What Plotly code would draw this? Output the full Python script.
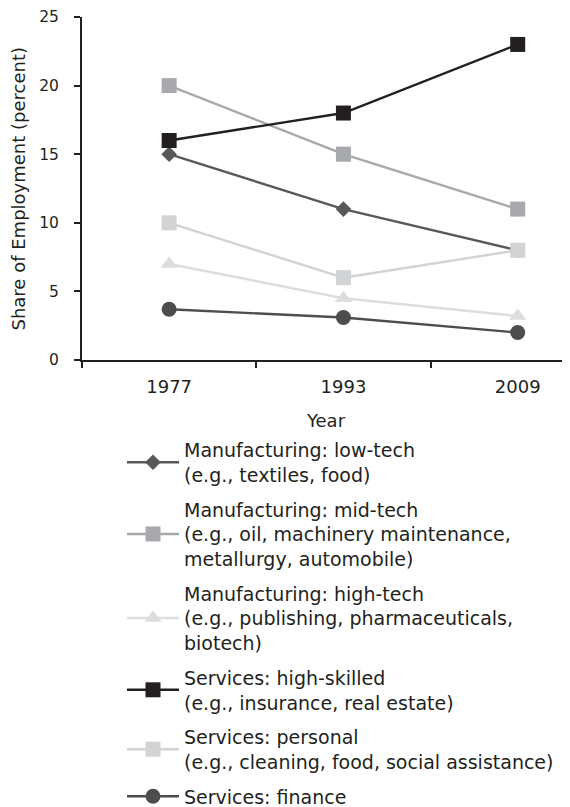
import plotly.graph_objects as go

years = [1977, 1993, 2009]
low_tech = [15, 11, 8]
mid_tech = [20, 15, 11]
high_tech = [7.0, 4.5, 3.2]
high_skilled = [16, 18, 23]
personal = [10, 6, 8]
finance = [3.7, 3.1, 2.0]

names = [
    "Manufacturing: low-tech<br>(e.g., textiles, food)",
    "Manufacturing: mid-tech<br>(e.g., oil, machinery maintenance,<br>metallurgy, automobile)",
    "Manufacturing: high-tech<br>(e.g., publishing, pharmaceuticals,<br>biotech)",
    "Services: high-skilled<br>(e.g., insurance, real estate)",
    "Services: personal<br>(e.g., cleaning, food, social assistance)",
    "Services: finance",
]
series = [low_tech, mid_tech, high_tech, high_skilled, personal, finance]
colors = ["#58585a", "#a7a9ac", "#dcdddf", "#231f20", "#d1d3d4", "#4d4d4f"]
symbols = ["diamond", "square", "triangle-up", "square", "square", "circle"]
sizes = [12, 15, 15, 15, 15, 15]
y_title = "Share of Employment (percent)"

TXT = "#231f20"
FONT = "DejaVu Sans, Verdana, sans-serif"
# page is drawn with an 8px body margin, so the figure is 8px smaller
W, H = 562, 799
L, R = 74, 0
fig = go.Figure()
for i, (nm, ys, c, s, sz) in enumerate(zip(names, series, colors, symbols, sizes)):
    fig.add_trace(go.Scatter(
        x=years, y=ys, name=nm, mode="lines+markers",
        line=dict(color=c, width=2.4),
        marker=dict(symbol=s, size=sz, color=c, line=dict(width=0)),
        legendgroup=f"g{i}",
    ))

fig.add_annotation(
    text=y_title, textangle=-90, showarrow=False,
    xref="paper", yref="paper", x=(10 - L) / (W - L - R), y=0.5,
    xanchor="center", yanchor="middle",
    font=dict(family=FONT, size=18, color=TXT),
)

fig.update_layout(
    template="none",
    width=W, height=H,
    margin=dict(l=L, r=R, t=9, b=447, autoexpand=False),
    paper_bgcolor="white", plot_bgcolor="white",
    font=dict(family=FONT, size=17, color=TXT),
    showlegend=True,
    legend=dict(
        xref="container", yref="container",
        x=114 / W, xanchor="left", y=1 - 423 / H, yanchor="top",
        itemwidth=52, tracegroupgap=7, font=dict(family=FONT, size=19, color=TXT),
        bgcolor="rgba(0,0,0,0)", borderwidth=0,
    ),
    xaxis=dict(
        automargin=False,
        range=[1969, 2013.8], tickvals=years, ticktext=[str(y) for y in years],
        ticks="", showgrid=False, zeroline=False,
        showline=True, linecolor=TXT, linewidth=2,
        tickfont=dict(size=18), ticklabelstandoff=9,
        minor=dict(tickvals=[1969, 1985, 2001], ticks="outside", ticklen=6,
                   tickwidth=2, tickcolor=TXT, showgrid=False),
        title=dict(text="Year", standoff=19, font=dict(size=18)),
    ),
    yaxis=dict(
        automargin=False,
        range=[0, 25], tickvals=[0, 5, 10, 15, 20, 25],
        ticks="outside", ticklen=6, tickwidth=2, tickcolor=TXT,
        tickfont=dict(size=15.5), ticklabelstandoff=12, ticklabeloverflow="allow",
        showgrid=False, zeroline=False,
        showline=True, linecolor=TXT, linewidth=2,
    ),
)
fig.write_html("out.html")
